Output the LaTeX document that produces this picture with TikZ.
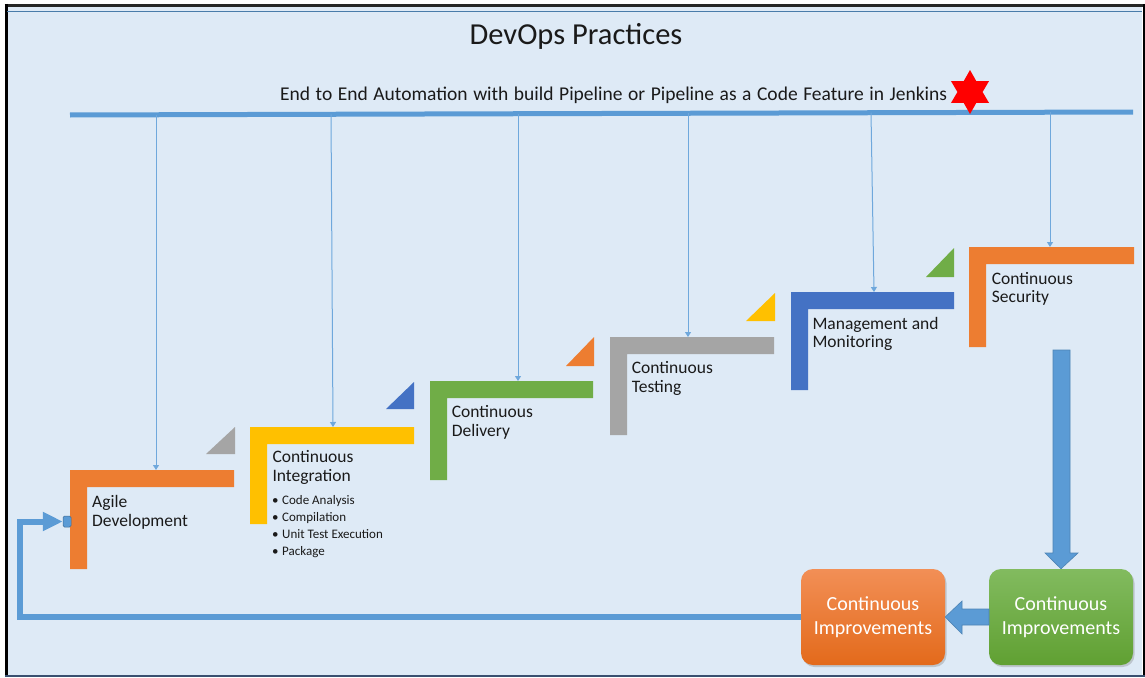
\documentclass[tikz,border=0pt]{standalone}
\usepackage{fontspec}
\setmainfont{Carlito}
\usetikzlibrary{arrows.meta,shapes.geometric,shadows}
\definecolor{bg}{HTML}{DEEAF6}
\definecolor{lblue}{HTML}{5B9BD5}
\definecolor{tblue}{HTML}{6FA8DC}
\definecolor{corange}{HTML}{ED7D31}
\definecolor{cyellow}{HTML}{FFC000}
\definecolor{cgreen}{HTML}{70AD47}
\definecolor{cgray}{HTML}{A5A5A5}
\definecolor{cblue}{HTML}{4472C4}
\definecolor{txt}{HTML}{1A1A1A}
\definecolor{otop}{HTML}{F28F56}
\definecolor{obot}{HTML}{E36A1B}
\definecolor{gtop}{HTML}{82BB5F}
\definecolor{gbot}{HTML}{60A032}
\definecolor{framebot}{HTML}{3A5070}
\newcommand\txtlines[1]{\begin{tabular}[t]{@{}l@{}}#1\end{tabular}}
\tikzset{
  steptext/.style={anchor=base west, inner sep=0, text=txt, font=\fontsize{17.5}{18.8}\selectfont},
  bullettext/.style={anchor=base west, inner sep=0, text=txt, font=\fontsize{13}{17.3}\selectfont},
  feed/.style={draw=tblue, line width=1pt, -{Triangle[width=6pt,length=5pt]}},
  bigarrow/.style={fill=lblue, draw=lblue!85!black, line width=0.6pt},
  cibox/.style={rounded corners=12pt, minimum width=144pt, minimum height=96pt, inner sep=0,
    text=white, align=center, font=\fontsize{20}{23.5}\selectfont,
    drop shadow={shadow xshift=1.5pt, shadow yshift=-2pt, opacity=0.35}},
}
\newcommand\stepL[5]{% color, x1, y1, x2, ybottom
  \fill[#1] (#2,#3) -- (#4,#3) -- (#4,#3+17) -- (#2+17,#3+17) -- (#2+17,#5) -- (#2,#5) -- cycle;}
\begin{document}
\begin{tikzpicture}[x=1pt,y=-1pt]
\useasboundingbox (0,0) rectangle (1145,677);
\fill[white] (0,0) rectangle (1145,677);
\fill[bg] (7,7) rectangle (1142,675);
% frame
\draw[line width=3pt, black!85] (4.5,5.5) -- (1145,5.5);
\draw[line width=3pt, black] (6,4) -- (6,677);
\draw[line width=2pt, black] (1143.5,4) -- (1143.5,677);
\draw[line width=2pt, framebot] (5,676) -- (1145,676);
\draw[line width=1pt, lblue!80!black] (7,12) -- (1142,12);
% title
\node[anchor=base, inner sep=0, text=txt, font=\fontsize{30.5}{36}\selectfont] (title) at (576,45) {DevOps Practices};
\node[anchor=base west, inner sep=0, text=txt, font=\fontsize{19.5}{22}\selectfont] (sub) at (280,100)
  {\makebox[667pt][s]{End to End Automation with build Pipeline or Pipeline as a Code Feature in Jenkins}};
% bus line
\coordinate (busL) at (70,115);
\coordinate (busR) at (1133,112);
\draw[line width=5pt, lblue] (busL) -- (busR);
\node[star, star points=6, star point ratio=1.75, fill=red, minimum size=44pt, inner sep=0] (star) at (970,92) {};
% steps
\stepL{corange}{70}{470}{234}{569}
\fill[cgray] (206,454) -- (235,454) -- (235,427) -- cycle;
\stepL{cyellow}{250}{427}{414}{524}
\fill[cblue] (386,409) -- (414,409) -- (414,382) -- cycle;
\stepL{cgreen}{430}{381}{593}{480}
\fill[corange] (566,366) -- (594,366) -- (594,337) -- cycle;
\stepL{cgray}{610}{337}{774}{435}
\fill[cyellow] (746,321) -- (775,321) -- (775,293) -- cycle;
\stepL{cblue}{791}{292}{954}{390}
\fill[cgreen] (926,277) -- (954,277) -- (954,248) -- cycle;
\stepL{corange}{969}{247}{1134}{347}
% step labels
\node[steptext] (agile) at (92,507.3) {\txtlines{Agile\\Development}};
\node[steptext] (ci) at (272.3,462.3) {\txtlines{Continuous\\Integration}};
\node[bullettext] (bul) at (272,504) {\txtlines{\makebox[10pt][l]{•}Code Analysis\\\makebox[10pt][l]{•}Compilation\\\makebox[10pt][l]{•}Unit Test Execution\\\makebox[10pt][l]{•}Package}};
\node[steptext] (cd) at (451.7,417.7) {\txtlines{Continuous\\Delivery}};
\node[steptext] (ct) at (631.7,373.3) {\txtlines{Continuous\\Testing}};
\node[steptext] (mm) at (812.3,329) {\txtlines{Management and\\Monitoring}};
\node[steptext] (cs) at (991.7,284) {\txtlines{Continuous\\Security}};
% feed arrows from bus
\coordinate (t1) at (156,114.8);  \coordinate (s1) at (156,470);
\coordinate (t2) at (331,114.3);  \coordinate (s2) at (333,427);
\coordinate (t3) at (518,113.7);  \coordinate (s3) at (518,381);
\coordinate (t4) at (688,113.3);  \coordinate (s4) at (688,337);
\coordinate (t5) at (871,112.7);  \coordinate (s5) at (874,292);
\coordinate (t6) at (1050,112.2); \coordinate (s6) at (1050,247);
\foreach \i in {1,...,6} { \draw[feed] (t\i) -- (s\i); }
% feedback loop
\node[fill=lblue, draw=lblue!70!black, line width=0.5pt, rounded corners=1.5pt, minimum width=8pt, minimum height=11pt, inner sep=0] (port) at (67,521.5) {};
\coordinate (fbc) at (20,617);
\draw[line width=6pt, lblue, miter limit=10, -{Triangle[length=20pt,width=18pt]}] (873,617) -- (fbc) |- (port.west);
% continuous improvement boxes
\node[cibox, top color=otop, bottom color=obot] (ciO) at (873,617) {Continuous\\Improvements};
\node[cibox, top color=gtop, bottom color=gbot] (ciG) at (1061,617) {Continuous\\Improvements};
% big down arrow into green box
\draw[bigarrow] (1053,350) -- (1070,350) -- (1070,553) -- (1078,553) -- (ciG.north) -- (1045,553) -- (1053,553) -- cycle;
% left block arrow from green to orange
\draw[bigarrow] (989,609) -- (962,609) -- (962,601) -- (ciO.east) -- (962,634) -- (962,625) -- (989,625) -- cycle;
\end{tikzpicture}
\end{document}
